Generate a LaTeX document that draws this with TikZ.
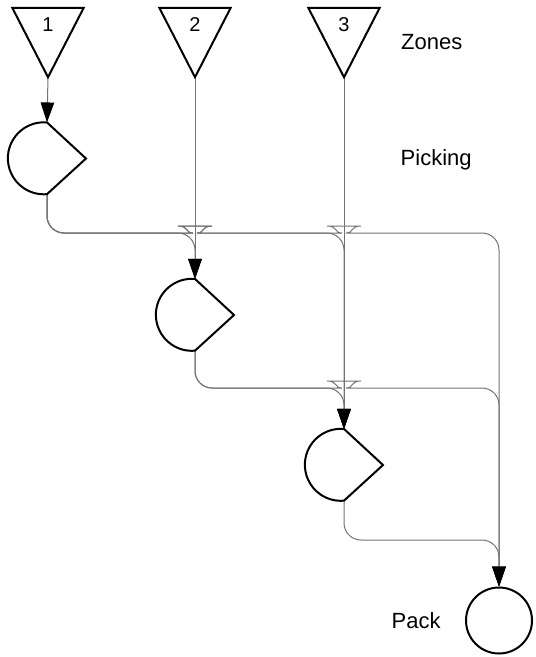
\documentclass[tikz,border=0pt]{standalone}
\usepackage{fontspec}
\setmainfont{Liberation Sans}
\usetikzlibrary{arrows.meta}

\newcommand{\lanehop}[1]{-- ([xshift=-19pt]#1) .. controls +(9pt,0pt) and +(-6pt,0pt) .. ([yshift=7pt]#1) .. controls +(6pt,0pt) and +(-9pt,0pt) .. ([xshift=19pt]#1)}

\begin{document}
\begin{tikzpicture}[x=1pt,y=-1pt,
   shape line/.style={draw,line width=2pt,line join=miter},
   zone/.style={inner sep=0pt,minimum width=71pt,text height=23.7pt,text depth=45.3pt,font=\fontsize{20}{22}\selectfont},
   pick/.style={inner sep=0pt,minimum width=0pt,minimum height=71.73pt},
   pack/.style={shape line,circle,inner sep=0pt,minimum size=66pt},
   title/.style={anchor=base west,inner sep=0pt,font=\fontsize{22}{26}\selectfont},
   flow/.style={draw=black!55,line width=1pt,rounded corners=17pt,-{Triangle[length=20pt,width=13.5pt,color=black,fill=black]}}]
\useasboundingbox (0,0) rectangle (536,657);

\node[zone] (zone1) at (48,42.5) {1};
\node[zone] (zone2) at (195,42.5) {2};
\node[zone] (zone3) at (344,42.5) {3};
\node[pick] (pick1) at (47,158.5) {};
\node[pick] (pick2) at (195,315) {};
\node[pick] (pick3) at (344,465) {};
\node[pack] (pack) at (499,620.5) {};

\node[title] (zones) at (401,49.3) {Zones};
\node[title] (picking) at (400.5,165) {Picking};
\node[title] (packing) at (391.5,628.3) {Pack};

\coordinate (lane1) at (0,233);
\coordinate (lane2) at (0,388);
\coordinate (lane3) at (0,540);
\coordinate (c12) at (lane1 -| zone2.south);
\coordinate (c13) at (lane1 -| zone3.south);
\coordinate (c23) at (lane2 -| zone3.south);

\draw[flow] (zone1.south) -- (pick1.north);
\draw[flow] (zone2.south) -- (pick2.north);
\draw[flow] (zone3.south) -- (pick3.north);

\draw[flow] (pick1.south) |- (lane1 -| pick2.north) -- (pick2.north);
\draw[flow] (pick1.south) -- (pick1.south |- lane1) \lanehop{c12} -- (lane1 -| pick3.north) -- (pick3.north);
\draw[flow] (pick1.south) -- (pick1.south |- lane1) \lanehop{c12} \lanehop{c13} -- (lane1 -| pack.north) -- (pack.north);
\draw[flow] (pick2.south) |- (lane2 -| pick3.north) -- (pick3.north);
\draw[flow] (pick2.south) -- (pick2.south |- lane2) \lanehop{c23} -- (lane2 -| pack.north) -- (pack.north);
\draw[flow] (pick3.south) |- (lane3 -| pack.north) -- (pack.north);

\foreach \z in {zone1,zone2,zone3}
  \draw[shape line] (\z.north west) -- (\z.north east) -- (\z.south) -- cycle;
\foreach \p in {pick1,pick2,pick3}
  \draw[shape line] (\p.north) arc[start angle=85,end angle=275,radius=36pt] -- ([xshift=39pt]\p.center) -- cycle;
\end{tikzpicture}
\end{document}
